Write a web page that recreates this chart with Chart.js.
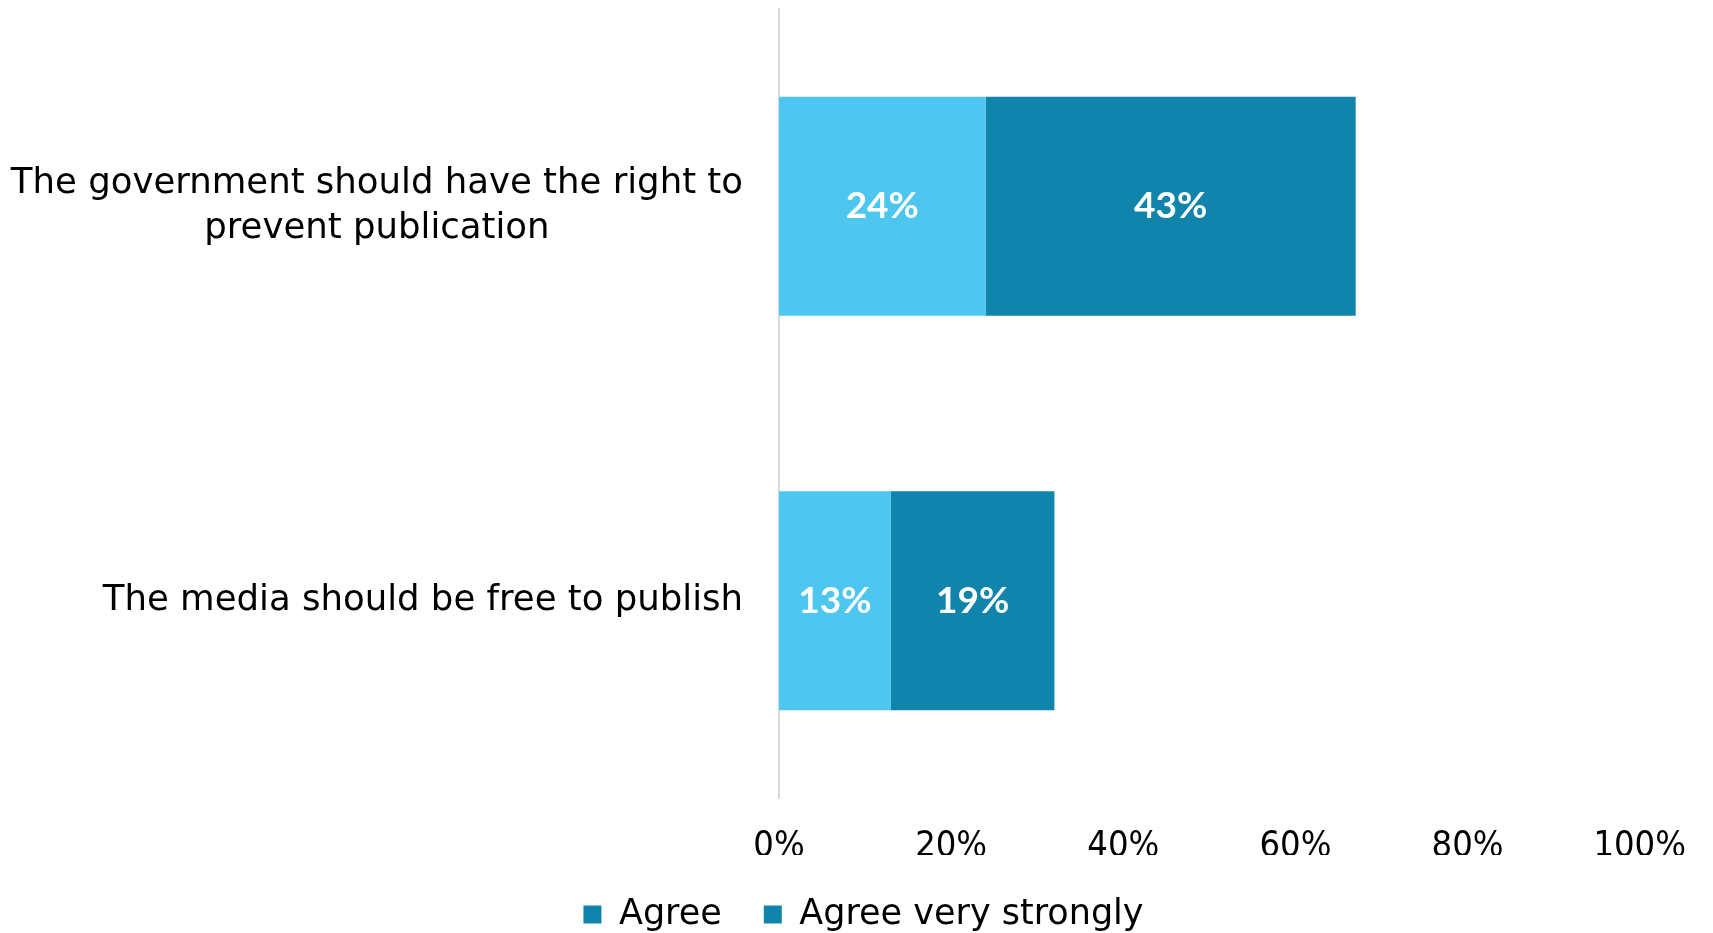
<!DOCTYPE html>
<html>
<head>
<meta charset="utf-8">
<title>Publication</title>
<script src="https://cdn.jsdelivr.net/npm/chart.js@4"></script>
<style>
  html, body { margin: 0; padding: 0; background: #fff; }
</style>
</head>
<body>
<canvas id="agreeChart" width="1713" height="933"></canvas>
<script>
const statements = [
  ['The government should have the right to', 'prevent publication'],
  'The media should be free to publish'
];
const agree = [24, 13];
const agreeVeryStrongly = [43, 19];
const seriesNames = ['Agree', 'Agree very strongly'];
const percentTicks = [0, 20, 40, 60, 80, 100];

const LIGHT = '#4dc7f0';
const DARK = '#1084ab';
const TEXT = '#000000';
const LABEL_FONT = '"DejaVu Sans", sans-serif';
const TICK_FONT = '"Liberation Sans Narrow", "DejaVu Sans Condensed", sans-serif';

// white value text centred in each bar segment
const segmentLabels = {
  id: 'segmentLabels',
  afterDatasetsDraw(chart) {
    const ctx = chart.ctx;
    ctx.save();
    ctx.font = 'bold 37px Lato, sans-serif';
    ctx.fillStyle = '#fff';
    ctx.textAlign = 'center';
    ctx.textBaseline = 'middle';
    chart.data.datasets.forEach((ds, i) => {
      chart.getDatasetMeta(i).data.forEach((bar, j) => {
        const { x, y, base } = bar.getProps(['x', 'y', 'base'], true);
        ctx.fillText(ds.data[j] + '%', (x + base) / 2, y);
      });
    });
    ctx.restore();
  }
};

// category text: block sits right against the axis, lines centred inside it
const categoryLabels = {
  id: 'categoryLabels',
  afterDraw(chart) {
    const ctx = chart.ctx;
    const yScale = chart.scales.y;
    const right = yScale.right - 36;
    const lineHeight = 45;
    ctx.save();
    ctx.font = '35.5px ' + LABEL_FONT;
    ctx.fillStyle = TEXT;
    ctx.textAlign = 'center';
    ctx.textBaseline = 'middle';
    chart.data.labels.forEach((label, i) => {
      const lines = Array.isArray(label) ? label : [label];
      const width = Math.max(...lines.map(l => ctx.measureText(l).width));
      const cx = right - width / 2;
      const cy = yScale.getPixelForTick(i);
      lines.forEach((line, k) => {
        ctx.fillText(line, cx, cy + (k - (lines.length - 1) / 2) * lineHeight);
      });
    });
    ctx.restore();
  }
};

new Chart(document.getElementById('agreeChart'), {
  type: 'bar',
  data: {
    labels: statements,
    datasets: [{
      label: seriesNames[0],
      data: agree,
      backgroundColor: LIGHT,
    }, {
      label: seriesNames[1],
      data: agreeVeryStrongly,
      backgroundColor: DARK,
    }]
  },
  options: {
    indexAxis: 'y',
    responsive: false,
    devicePixelRatio: 1,
    animation: false,
    layout: { padding: { top: 9, right: 66, left: 80, bottom: -9 } },
    datasets: { bar: { categoryPercentage: 1, barPercentage: 0.555 } },
    scales: {
      x: {
        stacked: true,
        min: 0,
        max: 100,
        afterBuildTicks: scale => { scale.ticks = percentTicks.map(v => ({ value: v })); },
        afterFit: scale => { scale.height = 57; },
        grid: { display: false, drawTicks: false },
        border: { display: false },
        ticks: {
          callback: v => v + '%',
          color: TEXT,
          padding: 27,
          maxRotation: 0,
          font: { family: TICK_FONT, size: 36 }
        }
      },
      y: {
        stacked: true,
        grid: { display: false, drawTicks: false },
        border: { display: true, color: '#d9d9d9', width: 2 },
        ticks: { display: false },
        afterFit: scale => { scale.width = 699; }
      }
    },
    plugins: {
      tooltip: { enabled: false },
      legend: {
        position: 'bottom',
        labels: {
          color: TEXT,
          boxWidth: 18,
          boxHeight: 18,
          padding: 42,
          font: { family: LABEL_FONT, size: 35 },
          generateLabels: chart => chart.data.datasets.map((ds, i) => ({
            text: ds.label,
            fillStyle: DARK,
            strokeStyle: DARK,
            lineWidth: 0,
            datasetIndex: i,
            hidden: false
          }))
        }
      }
    }
  },
  plugins: [segmentLabels, categoryLabels]
});
</script>
</body>
</html>
